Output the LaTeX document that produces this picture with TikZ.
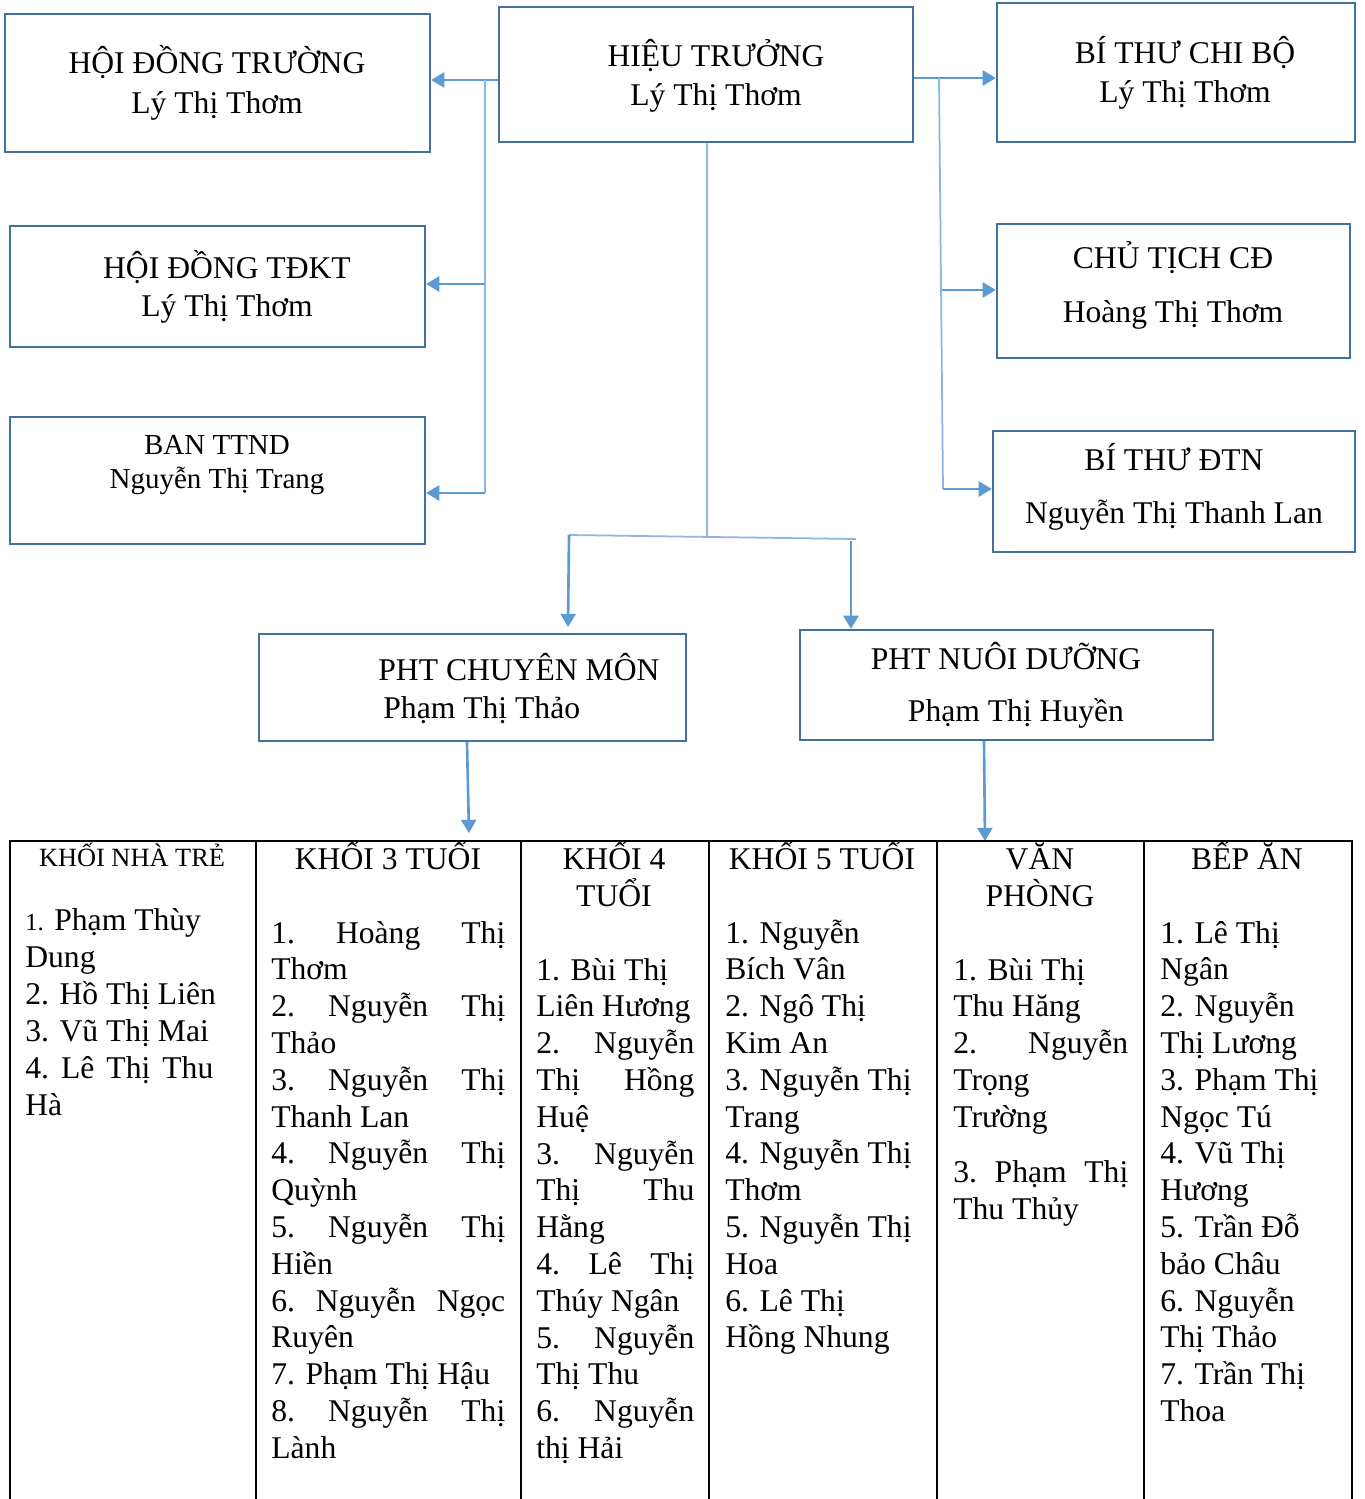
\documentclass[tikz,border=0pt]{standalone}
\usepackage{fontspec}
\setmainfont{Liberation Serif}
\usetikzlibrary{arrows.meta}
\definecolor{boxc}{HTML}{41719C}
\definecolor{arrc}{HTML}{5B9BD5}
\definecolor{linc}{HTML}{8DB6E2}
\newcommand{\J}[2]{\hbox to #1{#2}}
\tikzset{
  box/.style={draw=boxc, line width=1.3pt, inner sep=0pt},
  txt/.style={inner sep=0pt, anchor=base, font=\fontsize{18}{21}\selectfont},
  txtw/.style={inner sep=0pt, anchor=base west, font=\fontsize{18}{21}\selectfont},
  conn/.style={draw=linc, line width=1pt},
  arr/.style={draw=arrc, line width=1.5pt, -{Triangle[length=7.5pt,width=8.5pt]}},
  tbl/.style={draw=black, line width=1.2pt},
}
\begin{document}
\begin{tikzpicture}[x=0.02cm,y=-0.02cm]
\useasboundingbox (0,0) rectangle (1365,1499);
\fill[white] (0,0) rectangle (1365,1499);

% ---- boxes ----
\node[box, minimum width=8.5cm,  minimum height=2.76cm] (b1) at (217.5,83) {};
\node[box, minimum width=8.28cm, minimum height=2.7cm]  (b2) at (706,74.5) {};
\node[box, minimum width=7.16cm, minimum height=2.78cm] (b3) at (1176,72.5) {};
\node[box, minimum width=8.3cm,  minimum height=2.42cm] (b4) at (217.5,286.5) {};
\node[box, minimum width=7.06cm, minimum height=2.68cm] (b5) at (1173.5,291) {};
\node[box, minimum width=8.3cm,  minimum height=2.54cm] (b6) at (217.5,480.5) {};
\node[box, minimum width=7.24cm, minimum height=2.42cm] (b7) at (1174,491.5) {};
\node[box, minimum width=8.54cm, minimum height=2.14cm] (b8) at (472.5,687.5) {};
\node[box, minimum width=8.26cm, minimum height=2.2cm]  (b9) at (1006.5,685) {};

% ---- box texts ----
\node[txt] (t1a) at (217,73)  {HỘI ĐỒNG TRƯỜNG};
\node[txt] (t1b) at (217,113) {Lý Thị Thơm};
\node[txt] (t2a) at (716,66)  {HIỆU TRƯỞNG};
\node[txt] (t2b) at (716,105) {Lý Thị Thơm};
\node[txt] (t3a) at (1185,63) {BÍ THƯ CHI BỘ};
\node[txt] (t3b) at (1185,102){Lý Thị Thơm};
\node[txt] (t4a) at (227,278) {HỘI ĐỒNG TĐKT};
\node[txt] (t4b) at (227,316) {Lý Thị Thơm};
\node[txt] (t5a) at (1173,268){CHỦ TỊCH CĐ};
\node[txt] (t5b) at (1173,322){Hoàng Thị Thơm};
\node[txt, font=\fontsize{16.5}{19}\selectfont] (t6a) at (217,454) {BAN TTND};
\node[txt, font=\fontsize{16.5}{19}\selectfont] (t6b) at (217,488) {Nguyễn Thị Trang};
\node[txt] (t7a) at (1174,470){BÍ THƯ ĐTN};
\node[txt] (t7b) at (1174,523){Nguyễn Thị Thanh Lan};
\node[txtw] (t8a) at (378,680) {PHT CHUYÊN MÔN};
\node[txtw] (t8b) at (383,718) {Phạm Thị Thảo};
\node[txt] (t9a) at (1006,669){PHT NUÔI DƯỠNG};
\node[txt] (t9b) at (1016,721){Phạm Thị Huyền};

% ---- connectors left ----
\coordinate (jL)  at (485,80);
\coordinate (jL4) at (485,284);
\coordinate (jLb) at (485,493);
\draw[arr] (b2.west |- jL) -- (b1.east |- jL);
\draw[conn] (jL) -- (jLb);
\draw[arr] (jL4) -- (b4.east |- jL4);
\draw[arr] (jLb) -- (b6.east |- jLb);

% ---- connectors right ----
\coordinate (jR)  at (939,78);
\coordinate (jR5) at (942,290);
\coordinate (jRb) at (943,489);
\draw[arr] (b2.east |- jR) -- (b3.west |- jR);
\draw[conn] (jR) -- (jRb);
\draw[arr] (jR5) -- (b5.west |- jR5);
\draw[arr] (jRb) -- (b7.west |- jRb);

% ---- connectors centre ----
\coordinate (jC)  at (707,536);
\coordinate (jC1) at (569,535);
\coordinate (jC2) at (856,539);
\coordinate (jC9) at (851,541);
\coordinate (tip8) at (568,627);
\draw[conn] (b2.south -| jC) -- (jC);
\draw[conn] (jC1) -- (jC2);
\draw[arr] (jC1) -- (tip8);
\draw[arr] (jC9) -- (b9.north -| jC9);

% ---- to table ----
\coordinate (s8) at (467,741);
\coordinate (e8) at (469,833);
\coordinate (s9) at (984,740);
\coordinate (e9) at (985,841);
\draw[arr] (b8.south -| s8) -- (e8);
\draw[arr] (b9.south -| s9) -- (e9);

% ---- table ----
\draw[tbl] (10,1499) -- (10,841) -- (1352,841) -- (1352,1499);
\foreach \x in {256,521,709,937,1144} \draw[tbl] (\x,841) -- (\x,1499);

% headers
\node[txt, font=\fontsize{15}{18}\selectfont] (h1) at (132,866) {KHỐI NHÀ TRẺ};
\node[txt] (h2) at (388,869) {KHỐI 3 TUỔI};
\node[txt] (h3a) at (614,869) {KHỐI 4};
\node[txt] (h3b) at (614,906) {TUỔI};
\node[txt] (h4) at (822,869) {KHỐI 5 TUỔI};
\node[txt] (h5a) at (1040,869) {VĂN};
\node[txt] (h5b) at (1040,906) {PHÒNG};
\node[txt] (h6) at (1247,869) {BẾP ĂN};

% column 1
\foreach \t [count=\i] in {{{\fontsize{14}{14}\selectfont 1.} Phạm Thùy},Dung,2. Hồ Thị Liên,3. Vũ Thị Mai,{\J{3.76cm}{4.\hfill Lê\hfill Thị\hfill Thu}},Hà}
  \node[txtw] (c1-\i) at (25,{930+37*(\i-1)}) {\t};

% column 2
\foreach \t [count=\i] in {{\J{4.68cm}{1.\hfill Hoàng\hfill Thị}},Thơm,
  {\J{4.68cm}{2.\hfill Nguyễn\hfill Thị}},Thảo,
  {\J{4.68cm}{3.\hfill Nguyễn\hfill Thị}},Thanh Lan,
  {\J{4.68cm}{4.\hfill Nguyễn\hfill Thị}},Quỳnh,
  {\J{4.68cm}{5.\hfill Nguyễn\hfill Thị}},Hiền,
  {\J{4.68cm}{6.\hfill Nguyễn\hfill Ngọc}},Ruyên,
  7. Phạm Thị Hậu,
  {\J{4.68cm}{8.\hfill Nguyễn\hfill Thị}},Lành}
  \node[txtw] (c2-\i) at (271,{943+36.8*(\i-1)}) {\t};

% column 3
\foreach \t [count=\i] in {1. Bùi Thị,Liên Hương,
  {\J{3.16cm}{2.\hfill Nguyễn}},{\J{3.16cm}{Thị\hfill Hồng}},Huệ,
  {\J{3.16cm}{3.\hfill Nguyễn}},{\J{3.16cm}{Thị\hfill Thu}},Hằng,
  {\J{3.16cm}{4.\hfill Lê\hfill Thị}},Thúy Ngân,
  {\J{3.16cm}{5.\hfill Nguyễn}},Thị Thu,
  {\J{3.16cm}{6.\hfill Nguyễn}},thị Hải}
  \node[txtw] (c3-\i) at (536,{980+36.8*(\i-1)}) {\t};

% column 4
\foreach \t [count=\i] in {1. Nguyễn,Bích Vân,2. Ngô Thị,Kim An,3. Nguyễn Thị,Trang,
  4. Nguyễn Thị,Thơm,5. Nguyễn Thị,Hoa,6. Lê Thị,Hồng Nhung}
  \node[txtw] (c4-\i) at (725,{943+36.8*(\i-1)}) {\t};

% column 5
\foreach \t [count=\i] in {1. Bùi Thị,Thu Hăng,{\J{3.5cm}{2.\hfill Nguyễn}},Trọng,Trường}
  \node[txtw] (c5-\i) at (953,{980+36.8*(\i-1)}) {\t};
\node[txtw] (c5-6) at (953,1182) {\J{3.5cm}{3.\hfill Phạm\hfill Thị}};
\node[txtw] (c5-7) at (953,1219) {Thu Thủy};

% column 6
\foreach \t [count=\i] in {1. Lê Thị,Ngân,2. Nguyễn,Thị Lương,3. Phạm Thị,Ngọc Tú,
  4. Vũ Thị,Hương,5. Trần Đỗ,bảo Châu,6. Nguyễn,Thị Thảo,7. Trần Thị,Thoa}
  \node[txtw] (c6-\i) at (1160,{943+36.8*(\i-1)}) {\t};
\end{tikzpicture}
\end{document}
